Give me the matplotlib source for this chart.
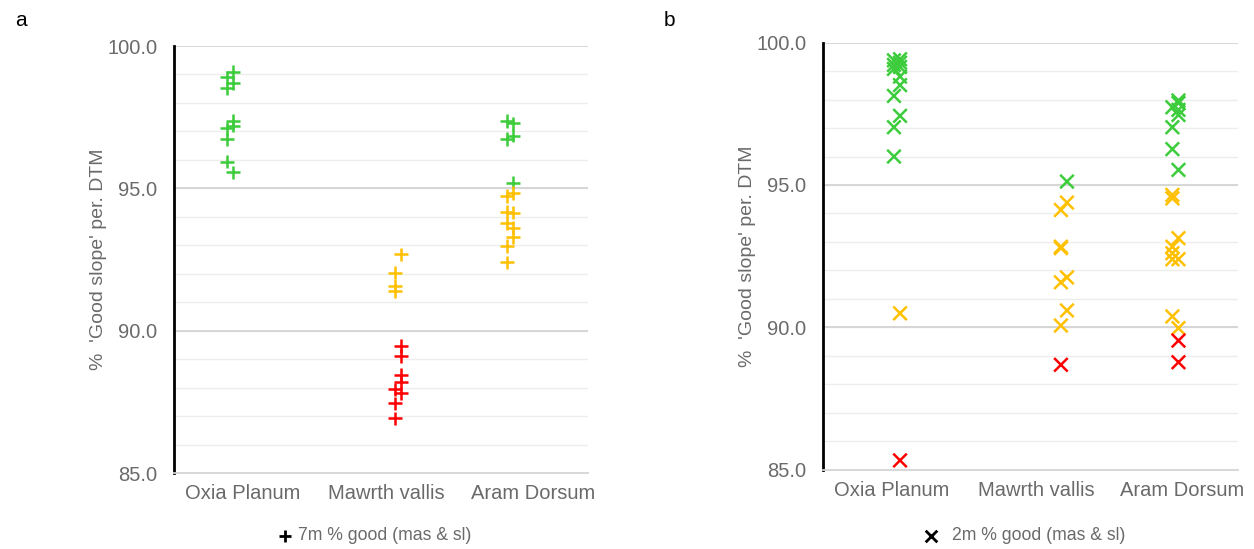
import matplotlib.pyplot as plt
import numpy as np

plt.rcParams['font.family'] = ['Liberation Sans', 'DejaVu Sans']

sites = ['Oxia Planum', 'Mawrth vallis', 'Aram Dorsum']
colours = {'g': '#3ccc3c', 'y': '#ffc000', 'r': '#ff0000'}

# panel a: 7m, values / class / lane (0 left, 1 right)
a_oxia_val = [99.08, 98.90, 98.69, 98.51, 97.37, 97.20, 97.11, 96.72, 95.94, 95.56]
a_oxia_cls = ['g', 'g', 'g', 'g', 'g', 'g', 'g', 'g', 'g', 'g']
a_oxia_lane = [1, 0, 1, 0, 1, 1, 0, 0, 0, 1]

a_mawrth_val = [92.68, 92.04, 91.57, 91.39, 89.47, 89.11, 88.44, 88.21, 87.94, 87.80, 87.45, 86.92]
a_mawrth_cls = ['y', 'y', 'y', 'y', 'r', 'r', 'r', 'r', 'r', 'r', 'r', 'r']
a_mawrth_lane = [1, 0, 0, 0, 1, 1, 1, 1, 0, 1, 0, 0]

a_aram_val = [97.37, 97.28, 96.85, 96.73, 95.20, 94.83, 94.74, 94.15, 94.18, 93.77, 93.62, 93.30, 92.98, 92.40]
a_aram_cls = ['g', 'g', 'g', 'g', 'g', 'y', 'y', 'y', 'y', 'y', 'y', 'y', 'y', 'y']
a_aram_lane = [0, 1, 1, 0, 1, 1, 0, 1, 0, 0, 1, 1, 0, 0]

# panel b: 2m
b_oxia_val = [99.42, 99.38, 99.30, 99.22, 99.15, 99.08, 98.81, 98.51, 98.13, 97.43, 97.03, 96.00, 90.49, 85.32]
b_oxia_cls = ['g'] * 12 + ['y', 'r']
b_oxia_lane = [1, 0, 1, 0, 1, 0, 1, 1, 0, 1, 0, 0, 1, 1]

b_mawrth_val = [95.12, 94.38, 94.12, 92.83, 92.78, 91.75, 91.58, 90.59, 90.06, 88.68]
b_mawrth_cls = ['g', 'y', 'y', 'y', 'y', 'y', 'y', 'y', 'y', 'r']
b_mawrth_lane = [1, 1, 0, 0, 0, 1, 0, 1, 0, 0]

b_aram_val = [97.97, 97.88, 97.73, 97.64, 97.46, 97.03, 96.26, 95.53,
              94.65, 94.53, 93.13, 92.83, 92.60, 92.39, 92.39, 90.38, 89.97, 89.53, 88.77]
b_aram_cls = ['g'] * 8 + ['y'] * 9 + ['r', 'r']
b_aram_lane = [1, 1, 0, 1, 1, 0, 0, 1, 0, 0, 1, 0, 0, 0, 1, 0, 1, 1, 1]

panels = [
    dict(tag='a', marker='+', legend='7m % good (mas & sl)',
         rect=[0.1388, 0.1384, 0.3302, 0.7778],
         centres=[0.406, 1.623, 2.435], leg_x=0.299, leg_pad=0.35,
         data=[(a_oxia_val, a_oxia_cls, a_oxia_lane),
               (a_mawrth_val, a_mawrth_cls, a_mawrth_lane),
               (a_aram_val, a_aram_cls, a_aram_lane)]),
    dict(tag='b', marker='x', legend='2m % good (mas & sl)',
         rect=[0.6563, 0.1448, 0.3309, 0.7774],
         centres=[0.535, 1.742, 2.548], leg_x=0.817, leg_pad=0.8,
         data=[(b_oxia_val, b_oxia_cls, b_oxia_lane),
               (b_mawrth_val, b_mawrth_cls, b_mawrth_lane),
               (b_aram_val, b_aram_cls, b_aram_lane)]),
]

fig = plt.figure(figsize=(12.54, 5.49), dpi=100)
grey = '#6a6a6a'

for p in panels:
    ax = fig.add_axes(p['rect'])
    ax.set_xlim(0, 3)
    ax.set_ylim(85, 100)
    # gridlines
    for v in np.arange(86, 100, 1):
        ax.axhline(v, color='#ededed', lw=1, zorder=0)
    for v in [90, 95, 100]:
        ax.axhline(v, color='#d4d4d4', lw=1.3, zorder=0)
    for k, (vals, cls, lane) in enumerate(p['data']):
        xs = [p['centres'][k] + (0.022 if l else -0.022) for l in lane]
        ax.scatter(xs, vals, c=[colours[c] for c in cls], marker=p['marker'],
                   s=95, linewidths=1.8, zorder=3)
    ax.set_yticks([85, 90, 95, 100])
    ax.set_yticklabels(['%.1f' % v for v in [85, 90, 95, 100]])
    ax.set_xticks([0.495, 1.54, 2.6])
    ax.set_xticklabels(sites)
    ax.tick_params(axis='both', length=0, colors=grey, labelsize=14.5)
    ax.tick_params(axis='y', pad=12)
    ax.tick_params(axis='x', pad=8)
    for s in ['top', 'right']:
        ax.spines[s].set_visible(False)
    ax.spines['bottom'].set_color('#d4d4d4')
    ax.spines['bottom'].set_linewidth(1.3)
    ax.spines['left'].set_color('black')
    ax.spines['left'].set_linewidth(2)
    ax.set_ylabel("%  'Good slope' per. DTM", color=grey, fontsize=14, labelpad=0)
    h = ax.scatter([], [], marker=p['marker'], c='black', s=70, linewidths=2)
    ax.legend([h], [p['legend']], loc='center', bbox_to_anchor=(p['leg_x'], 0.024),
              bbox_transform=fig.transFigure, frameon=False, fontsize=12.7,
              labelcolor=grey, handletextpad=p['leg_pad'], handlelength=0.8,
              borderpad=0, borderaxespad=0)
    x0 = p['rect'][0]
    fig.text(x0 - 0.127, 0.963, p['tag'], fontsize=15, color='black', va='center')

fig.savefig('out.png', dpi=100)
